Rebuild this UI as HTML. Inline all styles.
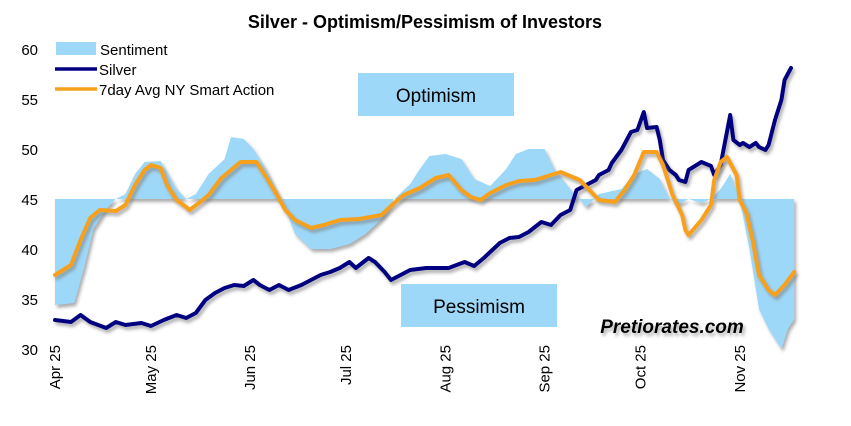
<!DOCTYPE html>
<html><head><meta charset="utf-8"><style>
body{margin:0;background:#fff;}
svg{display:block;font-family:"Liberation Sans",Arial,sans-serif;}
</style></head><body>
<svg id="chart" width="851" height="426">
<defs><filter id="sh" x="-5%" y="-5%" width="110%" height="120%"><feDropShadow dx="2" dy="3" stdDeviation="1.5" flood-color="#777" flood-opacity="0.6"/></filter></defs>
<text x="425" y="28" text-anchor="middle" font-size="18" font-weight="bold">Silver - Optimism/Pessimism of Investors</text>
<rect x="358" y="73" width="156" height="43" fill="#9ed8f8"/>
<text x="436" y="102" text-anchor="middle" font-size="19">Optimism</text>
<rect x="401" y="284" width="156" height="43" fill="#9ed8f8"/>
<text x="479" y="313" text-anchor="middle" font-size="19">Pessimism</text>
<g id="yaxis"></g><g id="xaxis"></g>
<g id="plot"></g>
<text x="672" y="333" text-anchor="middle" font-size="19" font-weight="bold" font-style="italic" filter="url(#sh)">Pretiorates.com</text>
<g>
<rect x="56" y="42" width="40" height="13" fill="#9ed8f8"/>
<text x="100" y="55" font-size="15">Sentiment</text>
<line x1="55" y1="69" x2="97" y2="69" stroke="#000080" stroke-width="3.5"/>
<text x="99" y="75" font-size="15">Silver</text>
<line x1="55" y1="89" x2="97" y2="89" stroke="#f7a01c" stroke-width="3.5"/>
<text x="99" y="95" font-size="15">7day Avg NY Smart Action</text>
</g>
</svg>
<script>
const yTicks=[30,35,40,45,50,55,60];
const monthLabels=["Apr 25","May 25","Jun 25","Jul 25","Aug 25","Sep 25","Oct 25","Nov 25"];
const monthDays=[0,30,61,91,122,153,183,214];
const sentDays=[0,6,9,12,16,19,22,25,28,33,38,41,44,48,53,55,59,62,66,69,72,75,80,86,92,97,102,106,111,114,117,122,127,131,136,141,144,148,153,156,161,166,170,177,181,185,189,192,195,198,202,205,208,211,214,217,220,223,227,229,231];
const sentVals=[34.4,34.6,38,42,44,45,45.5,47.5,48.7,48.8,46,45,45.5,47.5,49,51.2,51,50,48,46,44,41.5,40,40,40.5,41.5,43,45,46.5,48,49.3,49.5,49,47,46.3,48,49.5,50,50,48,46,44.2,45.5,46,47.5,48,47,45,44.5,45,44.6,45,46,47.5,45,40,34,32,30,32,33];
const silverDays=[0,5,8,11,16,19,22,27,30,34,38,41,44,47,50,53,56,59,62,64,67,70,73,77,80,83,86,89,92,94,98,100,103,105,108,111,116,120,123,128,131,134,139,142,145,148,152,155,158,161,163,166,169,170,173,174,177,180,182,184,185,188,189,190,192,194,195,197,198,202,205,206,208,211,212,214,215,217,219,220,222,223,225,227,228,230];
const silverVals=[32.9,32.7,33.4,32.7,32.1,32.7,32.4,32.6,32.3,32.9,33.4,33.1,33.6,34.9,35.6,36.1,36.4,36.3,36.9,36.4,35.9,36.4,35.9,36.4,36.9,37.4,37.7,38.1,38.7,38.1,39.1,38.7,37.7,36.9,37.4,37.9,38.1,38.1,38.1,38.7,38.3,39.1,40.6,41.1,41.2,41.7,42.7,42.4,43.4,43.9,45.9,46.4,46.9,47.4,47.9,48.6,49.9,51.7,51.9,53.7,52.1,52.2,50.9,48.9,47.9,47.4,46.9,46.7,47.9,48.7,48.3,47.4,48.4,53.4,50.9,50.4,50.6,50.2,50.6,50.2,49.9,50.4,52.9,54.9,56.9,58.1];
const smartDays=[0,5,8,11,14,19,22,25,28,30,33,35,38,41,42,45,48,52,55,58,63,66,69,72,75,80,84,89,95,102,106,109,114,119,123,127,130,133,136,141,145,150,155,158,161,164,167,170,175,178,181,184,188,190,193,196,197,198,202,205,206,208,210,213,214,216,218,220,223,225,228,231];
const smartVals=[37.4,38.4,40.9,43.1,43.9,43.8,44.4,46.4,47.9,48.4,48.1,46.4,44.9,44.2,43.9,44.6,45.4,47.1,47.9,48.7,48.7,47.2,45.6,43.9,42.9,42.1,42.4,42.9,43,43.4,44.6,45.4,46.1,47.1,47.4,45.9,45.2,44.9,45.6,46.4,46.8,46.9,47.4,47.7,47.3,46.9,45.9,44.9,44.7,45.9,47.4,49.7,49.7,48.4,45.4,43.4,41.9,41.4,42.9,44.4,46.9,48.7,49.2,47.4,44.9,43.7,40.9,37.4,35.9,35.4,36.4,37.7];
const baseline=45;

const NS="http://www.w3.org/2000/svg";
function xS(d){return 55+d*3.2;}
function yS(v){return 49+(60-v)*10;}
function mk(tag,attrs,parent){const e=document.createElementNS(NS,tag);for(const k in attrs)e.setAttribute(k,attrs[k]);parent.appendChild(e);return e;}
const ya=document.getElementById('yaxis'),xa=document.getElementById('xaxis'),plot=document.getElementById('plot');
yTicks.forEach(t=>{const e=mk('text',{x:38,y:yS(t)+6,'text-anchor':'end','font-size':15},ya);e.textContent=t;

});
monthLabels.forEach((m,i)=>{const x=xS(monthDays[i])+5;const e=mk('text',{x:x,y:345,'text-anchor':'end','font-size':15,transform:'rotate(-90 '+x+' 345)'},xa);e.textContent=m;

});
let n=Math.min(sentDays.length,sentVals.length);
let d='M'+xS(sentDays[0])+','+yS(baseline);
for(let i=0;i<n;i++)d+=' L'+xS(sentDays[i]).toFixed(1)+','+yS(sentVals[i]).toFixed(1);
d+=' L'+xS(sentDays[n-1])+','+yS(baseline)+' Z';
const area=mk('path',{d:d,fill:'#9ed8f8',filter:'url(#sh)'},plot);


function line(days,vals,color,name){const m=Math.min(days.length,vals.length);let p='';
for(let i=0;i<m;i++)p+=(i?' L':'M')+xS(days[i]).toFixed(1)+','+yS(vals[i]).toFixed(1);
const e=mk('path',{d:p,fill:'none',stroke:color,'stroke-width':4,'stroke-linejoin':'round','stroke-linecap':'round',filter:'url(#sh)'},plot);

}
line(silverDays,silverVals,'#000080','silver-line');
line(smartDays,smartVals,'#f7a01c','smart-action-line');
</script>
</body></html>
